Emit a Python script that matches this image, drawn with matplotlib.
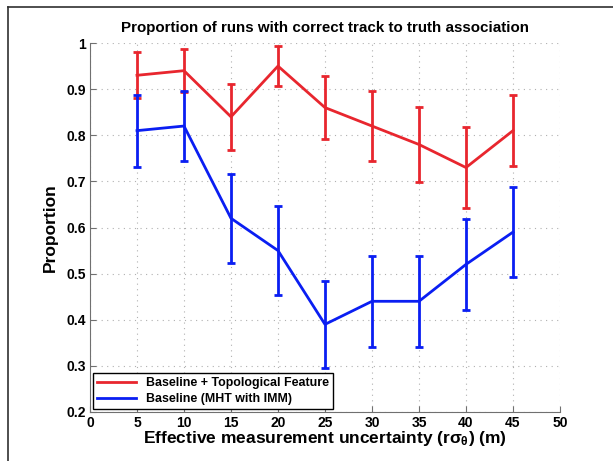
import numpy as np
import matplotlib.pyplot as plt
from matplotlib.lines import Line2D

plt.rcParams.update(
    {
        "font.family": ["Liberation Sans", "DejaVu Sans"],
        "font.weight": "bold",
        "mathtext.fontset": "custom",
        "mathtext.rm": "Liberation Sans:bold",
        "mathtext.it": "Liberation Sans:bold",
        "mathtext.bf": "Liberation Sans:bold",
    }
)

# ==================================================
# data
# ==================================================
uncertainty = [5, 10, 15, 20, 25, 30, 35, 40, 45]

topo_mean = [0.93, 0.94, 0.84, 0.95, 0.86, 0.82, 0.78, 0.73, 0.81]
topo_err = [0.05, 0.047, 0.072, 0.043, 0.068, 0.075, 0.082, 0.088, 0.077]

base_mean = [0.81, 0.82, 0.62, 0.55, 0.39, 0.44, 0.44, 0.52, 0.59]
base_err = [0.078, 0.076, 0.096, 0.097, 0.095, 0.098, 0.098, 0.098, 0.097]

labels = ["Baseline + Topological Feature", "Baseline (MHT with IMM)"]

RED = "#e8262e"
BLUE = "#0a1ef2"

# ==================================================
# figure
# ==================================================
fig = plt.figure(figsize=(6.13, 4.61), dpi=100)
ax = fig.add_axes([0.1468, 0.1063, 0.7667, 0.8004])

for mean, err, col, lab in [
    (topo_mean, topo_err, RED, labels[0]),
    (base_mean, base_err, BLUE, labels[1]),
]:
    ax.errorbar(
        uncertainty, mean, yerr=err, color=col, lw=2.0,
        elinewidth=2.0, capsize=3.2, capthick=2.0, label=lab,
    )

ax.set_xlim(0, 50)
ax.set_ylim(0.2, 1.0)
ax.set_xticks(np.arange(0, 51, 5))
ax.set_yticks(np.arange(0.2, 1.01, 0.1))
ax.set_yticklabels(["0.2", "0.3", "0.4", "0.5", "0.6", "0.7", "0.8", "0.9", "1"])

ax.grid(True, ls=(0, (1, 4)), color="#b0b0b0", lw=0.8)
ax.set_axisbelow(True)
for side in ["top", "right"]:
    ax.spines[side].set_visible(False)
for side in ["left", "bottom"]:
    ax.spines[side].set_color("#707070")
    ax.spines[side].set_linewidth(0.8)
ax.tick_params(direction="in", length=4, color="#707070", labelsize=10, pad=3)
for t in ax.get_xticklabels() + ax.get_yticklabels():
    t.set_fontweight("bold")

ax.set_title(
    "Proportion of runs with correct track to truth association",
    fontsize=10.9, fontweight="bold", pad=8,
)
ax.set_xlabel(r"Effective measurement uncertainty (r$\sigma_\theta$) (m)",
              fontsize=12.5, fontweight="bold", labelpad=-1)
ax.set_ylabel("Proportion", fontsize=12.5, fontweight="bold", labelpad=6)

handles = [Line2D([], [], color=RED, lw=2.0), Line2D([], [], color=BLUE, lw=2.0)]
leg = ax.legend(
    handles, labels, loc="lower left", fontsize=8.9, fancybox=False,
    framealpha=1, edgecolor="black", borderaxespad=0.25, handlelength=3.2,
    labelspacing=0.35, borderpad=0.3,
)
leg.get_frame().set_linewidth(1.0)
for t in leg.get_texts():
    t.set_fontweight("bold")

# screenshot frame (left and top border)
fig.add_artist(Line2D([8 / 613, 8 / 613], [0, 1 - 7 / 461], color="#303030", lw=1.2,
                      transform=fig.transFigure))
fig.add_artist(Line2D([8 / 613, 1], [1 - 7 / 461, 1 - 7 / 461], color="#303030", lw=1.2,
                      transform=fig.transFigure))

fig.savefig("out.png", dpi=100)
